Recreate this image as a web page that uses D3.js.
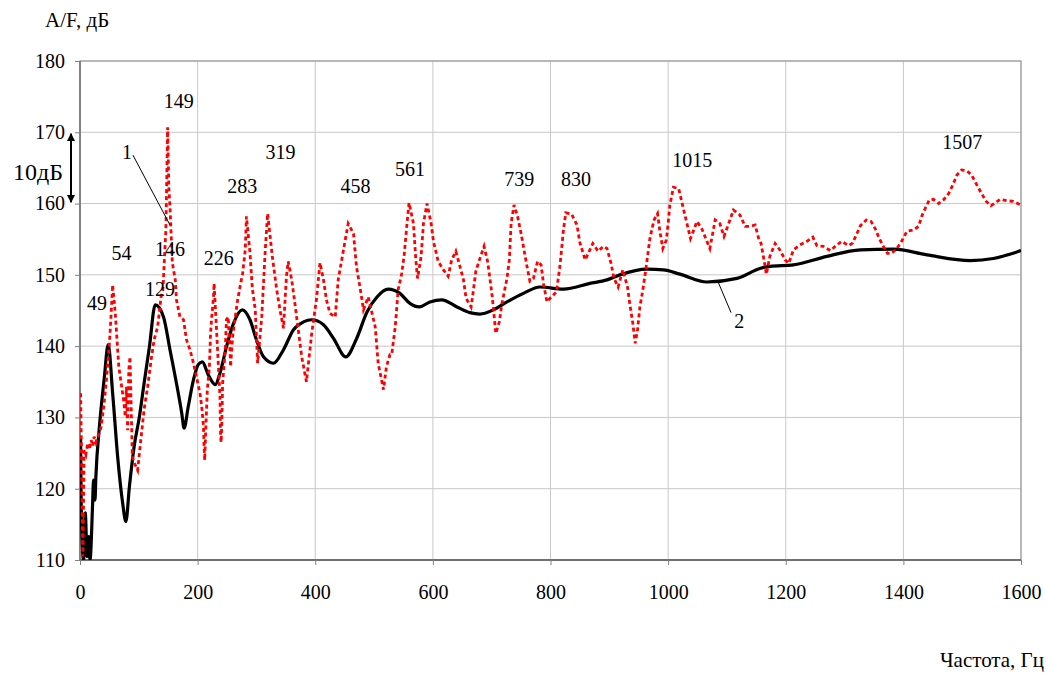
<!DOCTYPE html>
<html lang="ru">
<head>
<meta charset="UTF-8">
<title>A/F</title>
<script src="https://cdn.jsdelivr.net/npm/d3@7/dist/d3.min.js"></script>
<style>
    body { margin: 0; background: #fff; }
    svg text { font-family: "Liberation Serif", "Times New Roman", serif; fill: #000; }
    .grid line { stroke: #c8c8c8; stroke-width: 1; }
    .axis path { display: none; }
    .axis line { stroke: #808080; }
</style>
</head>
<body>
<svg width="1046" height="673"></svg>
<script>

// curve 1 (red, dashed): frequency, Hz
var freq1 = [1, 2, 3, 4, 5, 7, 10, 13, 16, 19, 22, 24, 27, 30, 33, 36, 41, 45, 50, 53, 55.5, 60, 64, 66, 70, 74, 77, 79, 81, 83, 85, 87, 89, 93, 98,
    104, 109, 115, 121, 126, 132, 138, 141, 144, 146, 149, 151, 153, 157, 162, 164, 170, 176, 181, 187, 193, 198, 204, 207, 210, 211, 212,
    214, 216.5, 220, 222, 224, 227, 228, 231, 233, 236, 238, 239, 240, 241, 242.5, 247, 249, 252, 255, 256, 259.5, 263.5, 267.5, 272, 276.5,
    281, 283, 289, 293, 298, 302, 309, 315, 319, 327, 334.5, 340, 346, 351, 354, 360, 366, 377, 385, 394, 402, 408, 414, 419, 425, 434, 439,
    445, 451, 456, 465, 470, 476, 482, 490, 502, 507, 516, 521, 527, 530, 536, 541, 547, 551, 556, 559.5, 567, 571, 574, 580, 584, 590, 597,
    601, 609, 618, 626, 632, 639, 646, 652, 656.5, 665, 669, 673, 680, 687, 693, 697, 701, 707, 713, 717, 726, 730, 733, 738, 744, 750, 755,
    760, 765, 771, 778, 784, 788, 794, 799, 810, 816, 819, 822, 826, 836, 845, 850, 859, 872, 881, 890, 896, 903, 908, 915, 923, 931, 935,
    940, 944, 948, 952, 957, 962, 969, 976, 982, 986, 991, 997, 1000, 1003, 1009, 1018, 1025, 1032, 1038, 1049, 1057, 1066, 1071, 1080,
    1088, 1095, 1103, 1111, 1122, 1131, 1139, 1148, 1154, 1158, 1163, 1167, 1173, 1182, 1190, 1199, 1205, 1213, 1224, 1236, 1246, 1253,
    1264, 1276, 1284, 1295, 1307, 1314, 1321, 1327, 1337, 1345, 1352, 1359, 1366, 1373, 1380, 1389, 1397, 1406, 1417, 1426, 1431, 1437,
    1444, 1451, 1460, 1468, 1477, 1484, 1491, 1499, 1508, 1516, 1525, 1533, 1541, 1549, 1556, 1565, 1576, 1587, 1600];
// curve 1 level, dB
var level1 = [133.4, 128, 122.6, 115, 110.5, 125.4, 124.8, 126.4, 125.5, 126.8, 126, 127.3, 126.5, 127.3, 127.8, 128.7, 132.0, 135.3, 140.4,
    144.6, 148.6, 144.6, 139.5, 137.1, 134.8, 132.5, 130.1, 134.3, 128.2, 136.7, 138.5, 131.5, 124.5, 123.5, 122.6,
    127.3, 131.1, 134.3, 138.1, 140.9, 142.7, 147.0, 147.9, 153, 156.2, 170.7, 162.3, 159.5, 151.7, 149.3, 146.5, 144.1, 143.7, 140.9, 139.5,
    137.6, 135.7, 133.4, 131.5, 128.7, 125.9, 124.0,
    128.7, 133.9, 137.1, 141.8, 144.1, 146.9, 148.8, 144.1, 140.9, 136.2, 132.9, 127.3, 126.5, 128.7, 134.8, 139.5, 143.7, 144.1, 139.5,
    137.1, 141.3, 143.7, 146.2, 148.3, 150.2,
    153.5, 158.2, 153.1, 148.1, 145.1, 137.6, 144.1, 153.5, 158.6, 152.6, 147.9, 145.1, 142.5, 149.8, 151.9, 149.3, 145.6, 138.5, 135.0,
    141.8, 146.5, 151.7, 149.3, 146.5, 144.6, 144.1, 149.3,
    152.1, 154.9, 157.2, 155.8, 151.2, 148.3, 145.1, 146.9, 142.7, 137.6, 133.9, 137.1, 138.8, 138.8, 142.7, 147.9, 150.2, 152.6, 157.2,
    160.1, 157.2, 152.1, 149.5, 152.6, 157.2, 160.0, 157.2,
    154.7, 151.9, 150.7, 149.8, 152.1, 153.3, 151.2, 149.3, 146.7, 145.5, 147.9, 150.5, 152.3, 154.0, 151.9, 149.5, 146.9, 141.8, 143.4,
    145.8, 149.5, 152.1, 157.2, 159.8, 158.2, 155.8, 153.5,
    151.2, 149.1, 149.5, 151.9, 151.4, 148.8, 146.2, 146.7, 147.6, 151.2, 153.7, 156.3, 158.7, 158.5, 157.0, 154.5, 152.1, 154.4, 153.3,
    154.0, 153.7, 151.6, 149.5, 148.3, 150.7, 148.3, 145.8,
    143.2, 140.4, 142.3, 145.5, 147.9, 150.7, 155.1, 157.7, 158.6, 156.1, 153.7, 154.9, 157.2, 159.8, 162.3, 162.1, 159.6, 157.2, 155.1,
    157.5, 156.5, 154.7, 153.7, 157.7,
    157.2, 155.4, 157.2, 159.1, 158.4, 156.8, 156.8, 157.0, 155.1, 154.4, 152.1, 150.1, 152.6, 154.4, 153.5, 152.1, 151.6, 153.5, 154.2,
    154.7, 155.3, 154.1,
    154.0, 153.4, 154.0, 154.7, 154.1, 154.5, 155.8, 156.9, 157.7, 157.5, 156.5, 155.1, 154.0, 153.0, 153.0, 153.7, 154.7, 156.1, 156.3,
    156.8, 158.2, 159.3,
    160.5, 160.6, 160.0, 160.5, 161.4, 162.6, 164.0, 164.7, 164.6, 164.0, 162.6, 161.4, 160.3, 159.7, 160.1, 160.6, 160.4, 160.3, 159.8];

// curve 2 (black, solid)
var freq2 = [1, 2, 4, 6, 9, 12, 15, 17, 21.5, 23, 25.5, 27, 33, 41, 48, 55.5, 64, 72.5, 78, 84, 92, 101, 109, 118, 128, 142, 153, 164,
    173, 177, 184, 193, 201, 208, 218, 230, 238, 249, 261, 276, 289, 300, 312, 329, 346, 363, 380, 394, 414, 431, 452, 470, 488, 505,
    524, 544, 561, 577, 595, 615, 641, 663, 680, 703, 726, 754, 782, 822, 867, 896, 918, 964, 992, 1020, 1066, 1117, 1156, 1173,
    1213, 1270, 1327, 1383, 1440, 1514, 1553, 1600];
var level2 = [127, 118, 112, 110, 116.6, 110.5, 113.3, 110, 118, 121.2, 118.4, 121.7, 128.7, 135.3, 140.2, 133.4, 124.5, 118, 115.4,
    120.3, 125.9, 130.1, 134.8, 139.9, 145.8, 144.1, 139.5, 134.8,
    130.6, 128.5, 131.5, 135.3, 137.4, 137.8, 136.0, 134.6, 136.2, 139.9, 143.2, 145.1, 143.7, 140.9, 138.5, 137.6, 139.5, 142.3, 143.4,
    143.7, 143.0, 141.1, 138.5, 141.0, 144.8, 146.9,
    148.0, 147.4, 146.0, 145.5, 146.2, 146.5, 145.5, 144.7, 144.5, 145.1, 146.2, 147.4, 148.3, 148.0, 148.8, 149.3, 150.0, 150.8, 150.7,
    150.1, 149.0, 149.5, 150.9, 151.2,
    151.4, 152.6, 153.5, 153.6, 152.8, 152.0, 152.3, 153.4];

// peak labels: frequency text, anchored at (Hz, dB)
var peakText = ["149", "319", "283", "54", "146", "226", "129", "49", "458", "561", "739", "830", "1015", "1507"];
var peakF = [168, 341, 276, 70.5, 153, 236, 136, 29, 468.5, 561, 747, 843.5, 1041, 1500];
var peakDb = [173.4, 166.3, 161.5, 152.1, 152.7, 151.4, 147.0, 145.1, 161.5, 163.9, 162.5, 162.5, 165.1, 167.7];

var xTicks = [0, 200, 400, 600, 800, 1000, 1200, 1400, 1600];
var yTicks = [110, 120, 130, 140, 150, 160, 170, 180];

var svg = d3.select("svg");
var margin = {top: 61, right: 25, bottom: 113, left: 80};
var width = +svg.attr("width") - margin.left - margin.right,
    height = +svg.attr("height") - margin.top - margin.bottom;

var x = d3.scaleLinear().domain([0, 1600]).range([0, width]);
var y = d3.scaleLinear().domain([110, 180]).range([height, 0]);

var g = svg.append("g").attr("transform", "translate(" + margin.left + "," + margin.top + ")");

g.append("clipPath").attr("id", "clip")
    .append("rect").attr("width", width).attr("height", height);

// grid
var grid = g.append("g").attr("class", "grid");
grid.selectAll(".gx").data(xTicks).enter().append("line")
    .attr("x1", function(d) { return x(d); }).attr("x2", function(d) { return x(d); })
    .attr("y1", 0).attr("y2", height);
grid.selectAll(".gy").data(yTicks).enter().append("line")
    .attr("y1", function(d) { return y(d); }).attr("y2", function(d) { return y(d); })
    .attr("x1", 0).attr("x2", width);

// frame
g.append("rect")
    .attr("width", width).attr("height", height)
    .attr("fill", "none").attr("stroke", "#8c8c8c").attr("stroke-width", 1);
g.append("line").attr("x1", 0).attr("x2", width).attr("y1", height).attr("y2", height)
    .attr("stroke", "#707070").attr("stroke-width", 2);
g.append("line").attr("x1", 0).attr("x2", 0).attr("y1", 0).attr("y2", height)
    .attr("stroke", "#707070").attr("stroke-width", 1.5);

// axes
g.append("g").attr("class", "axis")
    .attr("transform", "translate(0," + height + ")")
    .call(d3.axisBottom(x).tickValues(xTicks).tickSize(5).tickPadding(20).tickFormat(d3.format("d")))
    .selectAll("text").style("font-size", "20px");
g.append("g").attr("class", "axis")
    .call(d3.axisLeft(y).tickValues(yTicks).tickSize(5).tickPadding(10).tickFormat(d3.format("d")))
    .selectAll("text").style("font-size", "20px");

// curves
var pts1 = freq1.map(function(f, i) { return [f, level1[i]]; });
var pts2 = freq2.map(function(f, i) { return [f, level2[i]]; });

var plot = g.append("g").attr("clip-path", "url(#clip)");

plot.append("path")
    .datum(pts2)
    .attr("fill", "none")
    .attr("stroke", "#000")
    .attr("stroke-width", 3.2)
    .attr("stroke-linejoin", "round")
    .attr("d", d3.line().curve(d3.curveMonotoneX)
        .x(function(d) { return x(d[0]); })
        .y(function(d) { return y(d[1]); }));

plot.append("path")
    .datum(pts1)
    .attr("fill", "none")
    .attr("stroke", "#ff0000")
    .attr("stroke-width", 2.8)
    .attr("stroke-dasharray", "4,3")
    .attr("d", d3.line()
        .x(function(d) { return x(d[0]); })
        .y(function(d) { return y(d[1]); }));

// peak labels
g.selectAll(".peak").data(peakText).enter().append("text")
    .attr("class", "peak")
    .attr("x", function(d, i) { return x(peakF[i]); })
    .attr("y", function(d, i) { return y(peakDb[i]); })
    .attr("text-anchor", "middle")
    .style("font-size", "20px")
    .text(function(d) { return d; });

// curve numbers with leader lines
g.append("line")
    .attr("x1", x(90)).attr("y1", y(166.8)).attr("x2", x(153)).attr("y2", y(157.0))
    .attr("stroke", "#000").attr("stroke-width", 1);
g.append("text").attr("x", x(80)).attr("y", y(166.3)).attr("text-anchor", "middle")
    .style("font-size", "20px").text("1");

g.append("line")
    .attr("x1", x(1085)).attr("y1", y(149.0)).attr("x2", x(1107)).attr("y2", y(144.7))
    .attr("stroke", "#000").attr("stroke-width", 1);
g.append("text").attr("x", x(1121)).attr("y", y(142.6)).attr("text-anchor", "middle")
    .style("font-size", "20px").text("2");

// 10 dB scale arrow
svg.append("defs").append("marker")
    .attr("id", "arr").attr("viewBox", "0 0 10 10")
    .attr("refX", 9).attr("refY", 5)
    .attr("markerWidth", 4).attr("markerHeight", 4)
    .attr("orient", "auto-start-reverse")
    .append("path").attr("d", "M0,0 L10,5 L0,10 z").attr("fill", "#000");
g.append("line")
    .attr("x1", -9).attr("x2", -9)
    .attr("y1", y(169.8)).attr("y2", y(160.2))
    .attr("stroke", "#000").attr("stroke-width", 2)
    .attr("marker-start", "url(#arr)").attr("marker-end", "url(#arr)");
g.append("text").attr("x", -17).attr("y", y(163.3)).attr("text-anchor", "end")
    .style("font-size", "24px").text("10дБ");

// axis titles
svg.append("text").attr("x", 45).attr("y", 27)
    .style("font-size", "21px").text("A/F, дБ");
svg.append("text").attr("x", 1044).attr("y", 667).attr("text-anchor", "end")
    .style("font-size", "21px").text("Частота, Гц");

</script>
</body>
</html>
